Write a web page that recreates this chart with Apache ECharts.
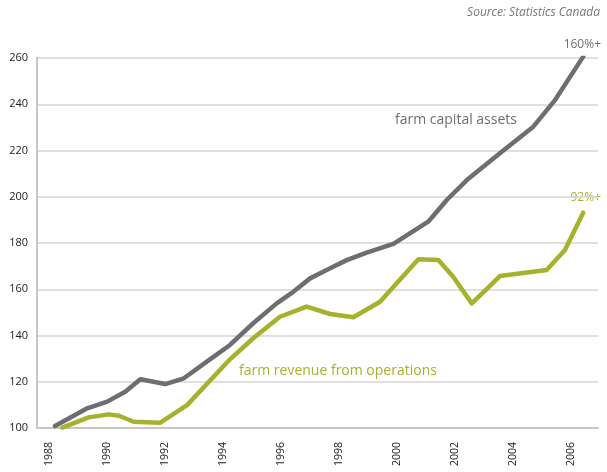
<!DOCTYPE html>
<html>
<head>
<meta charset="utf-8">
<script src="https://cdn.jsdelivr.net/npm/echarts@6/dist/echarts.min.js"></script>
<style>
  html, body { margin: 0; padding: 0; background: #fff; }
  #chart { width: 607px; height: 472px; }
</style>
</head>
<body>
<div id="chart"></div>
<script>
// year ticks shown on the x axis
const yearTicks = [1988, 1990, 1992, 1994, 1996, 1998, 2000, 2002, 2004, 2006];
// farm capital assets index (1988 = 100), [year, value]
const capitalYears = [1988.22, 1989.33, 1990.02, 1990.64, 1991.16, 1992.02, 1992.66, 1993.56, 1994.25, 1995.05, 1995.86, 1996.43, 1997.01, 1997.58, 1998.27, 1998.96, 1999.88, 2001.08, 2001.72, 2002.41, 2003.55, 2004.70, 2005.45, 2006.42];
const capitalValues = [100.9, 108.5, 111.4, 115.7, 121.1, 119.0, 121.5, 129.7, 135.9, 145.3, 153.9, 158.9, 164.7, 168.3, 172.6, 175.8, 179.6, 189.2, 198.6, 207.2, 218.8, 230.3, 241.8, 260.6];
// farm revenue from operations index
const revenueYears = [1988.47, 1989.38, 1990.07, 1990.42, 1990.93, 1991.85, 1992.77, 1994.25, 1995.05, 1995.97, 1996.89, 1997.70, 1998.50, 1999.42, 2000.74, 2001.43, 2001.94, 2002.58, 2003.04, 2003.55, 2005.16, 2005.79, 2006.42];
const revenueValues = [100.2, 104.6, 105.9, 105.3, 102.7, 102.3, 109.9, 129.7, 138.8, 148.1, 152.5, 149.3, 147.9, 154.6, 173.0, 172.6, 165.4, 153.9, 159.4, 165.7, 168.3, 177.0, 193.1];

const GRAY = '#6d6e71';
const GREEN = '#a6b12d';
const FONT = '"Open Sans", sans-serif';

const zip = (xs, ys) => xs.map((x, i) => [x, ys[i]]);

const el = document.getElementById('chart');
const chart = echarts.init(el, null, { renderer: 'canvas' });

chart.setOption({
  animation: false,
  backgroundColor: '#fff',
  grid: { left: 37, right: 9, top: 58, bottom: 44, containLabel: false },
  xAxis: {
    type: 'value',
    min: 1987.6,
    max: 2006.93,
    splitLine: { show: false },
    axisLine: { show: true, lineStyle: { color: '#c6c6c6', width: 2 } },
    axisTick: { show: false },
    axisLabel: {
      customValues: yearTicks,
      rotate: 90,
      margin: 14,
      color: '#222',
      fontFamily: FONT,
      fontSize: 10.5,
      formatter: v => String(v)
    }
  },
  yAxis: {
    type: 'value',
    min: 100,
    max: 260,
    interval: 20,
    axisLine: { show: true, lineStyle: { color: '#c6c6c6', width: 2 } },
    axisTick: { show: false },
    splitLine: { lineStyle: { color: '#d6d6d6', width: 1.5 } },
    axisLabel: { color: '#222', fontFamily: FONT, fontSize: 11, margin: 9 }
  },
  series: [
    {
      name: 'farm capital assets',
      type: 'line',
      data: zip(capitalYears, capitalValues),
      showSymbol: false,
      lineStyle: { color: GRAY, width: 4.5, cap: 'round', join: 'round' },
      z: 3
    },
    {
      name: 'farm revenue from operations',
      type: 'line',
      data: zip(revenueYears, revenueValues),
      showSymbol: false,
      lineStyle: { color: GREEN, width: 4.5, cap: 'round', join: 'round' },
      z: 2
    }
  ],
  graphic: [
    { type: 'text', right: 7, top: 7,
      style: { text: 'Source: Statistics Canada', fill: '#777', font: 'italic 12px ' + FONT } },
    { type: 'text', right: 6, top: 39,
      style: { text: '160%+', fill: GRAY, font: '12px ' + FONT } },
    { type: 'text', right: 6, top: 192,
      style: { text: '92%+', fill: GREEN, font: '12px ' + FONT } },
    { type: 'text', left: 395, top: 113,
      style: { text: 'farm capital assets', fill: GRAY, font: '14px ' + FONT } },
    { type: 'text', left: 239, top: 364,
      style: { text: 'farm revenue from operations', fill: GREEN, font: '14px ' + FONT } }
  ]
});
window.onresize = () => chart.resize();
</script>
</body>
</html>
